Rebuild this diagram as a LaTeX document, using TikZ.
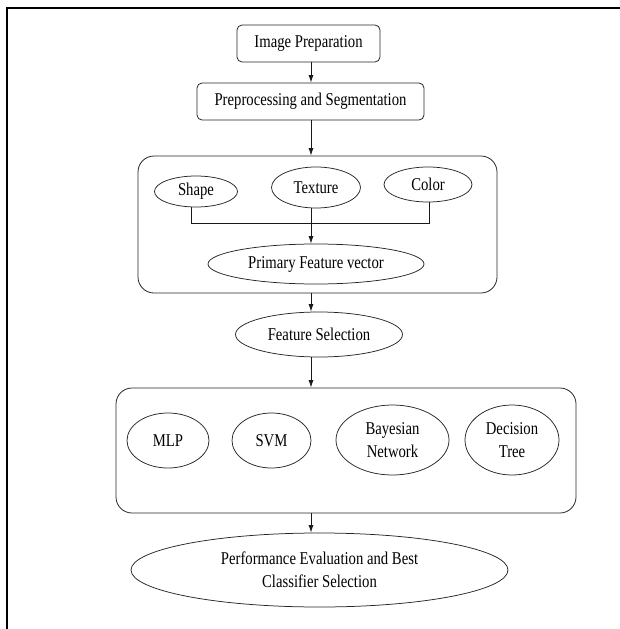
\documentclass[tikz,border=0pt]{standalone}
\usepackage{fontspec}
\setmainfont{Liberation Serif}
\usepackage{graphicx}
\usetikzlibrary{shapes.geometric,arrows.meta}
\newcommand{\st}[1]{\scalebox{0.98}[1.2]{#1}}
\begin{document}
\begin{tikzpicture}[x=1pt,y=-1pt,
  every node/.style={font=\fontsize{15}{23}\selectfont, text=black, inner sep=0pt},
  rbox/.style={draw=black!85, line width=0.8pt, rounded corners=5pt, rectangle},
  bigbox/.style={draw=black!85, line width=0.8pt, rounded corners=16pt, rectangle},
  ell/.style={draw=black!85, line width=0.75pt, ellipse, align=center},
  conn/.style={draw=black!90, line width=0.85pt},
  arr/.style={conn, -{Latex[length=7.5pt,width=5pt]}}]
\useasboundingbox (0,0) rectangle (619,629);
% outer frame (cropped: only top and left visible)
\draw[line width=2.8pt, black] (7,640) -- (7,8) -- (640,8);
\coordinate (spine) at (311,0);
% boxes
\node[rbox, minimum width=143, minimum height=37] (ip) at (308.5,43.5) {\st{Image Preparation}};
\node[rbox, minimum width=227, minimum height=37] (pre) at (310.5,101.5) {\st{Preprocessing and Segmentation}};
\node[bigbox, minimum width=359, minimum height=137] (box1) at (317.5,224.5) {};
\node[ell, minimum width=83, minimum height=31] (shape) at (196,191.5) {\st{Shape}};
\node[ell, minimum width=89, minimum height=41] (texture) at (316,187.5) {\st{Texture}};
\node[ell, minimum width=88, minimum height=35] (color) at (428,184.5) {\st{Color}};
\node[ell, minimum width=216, minimum height=40] (primary) at (316,264) {\st{Primary Feature vector}};
\node[ell, minimum width=167, minimum height=45] (fsel) at (319,334.5) {\st{Feature Selection}};
\node[bigbox, minimum width=460, minimum height=125] (box2) at (346,450.5) {};
\node[ell, minimum width=82, minimum height=55] (mlp) at (168,440.5) {\st{MLP}};
\node[ell, minimum width=79, minimum height=55] (svm) at (271.5,440.5) {\st{SVM}};
\node[ell, minimum width=113, minimum height=70] (bayes) at (392.5,440) {\st{Bayesian}\\\st{Network}};
\node[ell, minimum width=94, minimum height=70] (dtree) at (512,440) {\st{Decision}\\\st{Tree}};
\node[ell, minimum width=377, minimum height=74] (perf) at (319.5,570) {\st{Performance Evaluation and Best}\\\st{Classifier Selection}};
% junction
\coordinate (jl) at (191,223);
\coordinate (jr) at (429,223);
% connectors
\draw[arr] (ip.south -| spine) -- (pre.north -| spine);
\draw[arr] (pre.south -| spine) -- (box1.north -| spine);
\draw[conn] (shape.south -| jl) -- (jl) -- (jr) -- (color.south -| jr);
\draw[arr] (texture.south -| spine) -- (primary.north -| spine);
\draw[arr] (box1.south -| spine) -- (fsel.north -| spine);
\draw[arr] (fsel.south -| spine) -- (box2.north -| spine);
\draw[arr] (box2.south -| spine) -- (perf.north -| spine);
\end{tikzpicture}
\end{document}
